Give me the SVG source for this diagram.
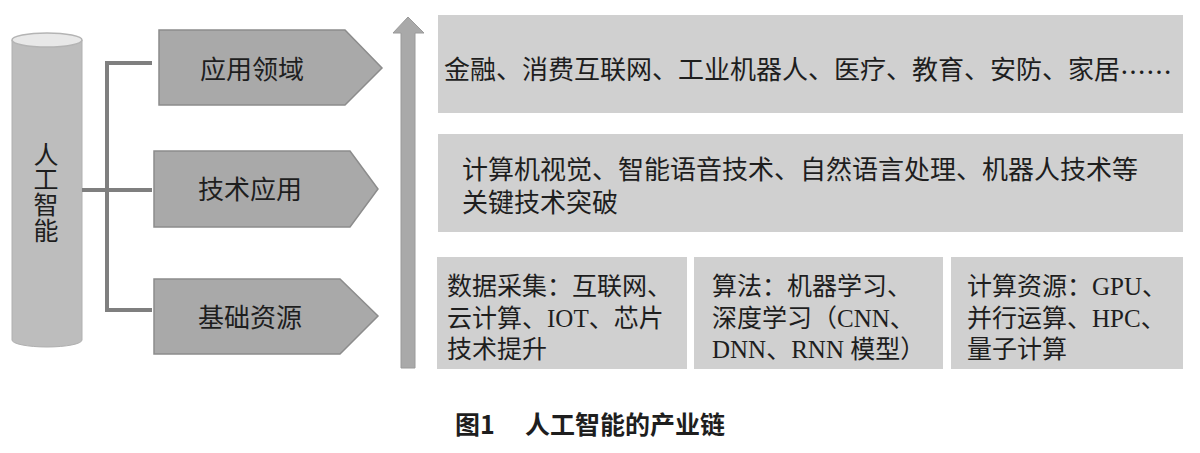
<svg xmlns="http://www.w3.org/2000/svg" width="1200" height="453" viewBox="0 0 1200 453">
<style>
.t{font-family:"Liberation Serif","Noto Sans CJK SC",serif;fill:#1e1e1e;dominant-baseline:central}
.cjk{font-family:"Noto Sans CJK SC",sans-serif}
.pent{fill:#a9a9a9;stroke:#8c8c8c;stroke-width:1.5}
.box{fill:#d0d0d0}
.conn{fill:none;stroke:#7f7f7f;stroke-width:4}
.cap{font-family:"Noto Sans CJK SC","Liberation Sans",sans-serif;font-weight:bold;fill:#1e1e1e;font-size:25px;dominant-baseline:central}
</style>
<rect width="1200" height="453" fill="#ffffff"/>
<g id="ai">
<path d="M12,40 V340 A35,7 0 0 0 82,340 V40 Z" fill="#bdbdbd" stroke="#b0b0b0" stroke-width="1"/>
<ellipse cx="47" cy="40" rx="35" ry="7" fill="#e8e8e8" stroke="#b4b4b4" stroke-width="1.5"/>
<text class="t" font-size="25" text-anchor="middle"><tspan x="46" y="155">人</tspan><tspan x="46" y="180">工</tspan><tspan x="46" y="205">智</tspan><tspan x="46" y="231">能</tspan></text>
</g>
<g id="connectors">
<path class="conn" d="M82,190 H152 M107,63 V310 M105,63 H152 M105,310 H152"/>
<polygon points="401,368 401,33 393,33 408,17 424,33 415,33 415,368" fill="#a9a9a9" stroke="#9a9a9a" stroke-width="1"/>
</g>
<g id="app-field">
<polygon class="pent" points="159,30 345,30 382,68 345,105 159,105"/>
<text class="t" font-size="26" x="252" y="70" text-anchor="middle">应用领域</text>
</g>
<g id="tech-app">
<polygon class="pent" points="154,151 350,151 378,189 350,227 154,227"/>
<text class="t" font-size="26" x="250" y="190" text-anchor="middle">技术应用</text>
</g>
<g id="base-res">
<polygon class="pent" points="154,279 340,279 378,316 340,354 154,354"/>
<text class="t" font-size="26" x="250" y="318" text-anchor="middle">基础资源</text>
</g>
<g id="box-app">
<rect class="box" x="438" y="15" width="745" height="98"/>
<text class="t" font-size="26" x="444" y="70">金融、消费互联网、工业机器人、医疗、教育、安防、家居<tspan class="cjk">……</tspan></text>
</g>
<g id="box-tech">
<rect class="box" x="438" y="134" width="745" height="98"/>
<text class="t" font-size="26" x="462" y="170">计算机视觉、智能语音技术、自然语言处理、机器人技术等</text>
<text class="t" font-size="26" x="462" y="203">关键技术突破</text>
</g>
<g id="box-data">
<rect class="box" x="437" y="257" width="250" height="112"/>
<text class="t" font-size="25" x="447" y="286">数据采集：互联网、</text>
<text class="t" font-size="25" x="447" y="318">云计算、IOT、芯片</text>
<text class="t" font-size="25" x="447" y="349">技术提升</text>
</g>
<g id="box-algo">
<rect class="box" x="694" y="257" width="249" height="112"/>
<text class="t" font-size="25" x="712" y="286">算法：机器学习、</text>
<text class="t" font-size="25" x="712" y="318">深度学习（CNN、</text>
<text class="t" font-size="25" x="712" y="349">DNN、RNN 模型）</text>
</g>
<g id="box-compute">
<rect class="box" x="951" y="257" width="232" height="112"/>
<text class="t" font-size="25" x="967" y="286">计算资源：GPU、</text>
<text class="t" font-size="25" x="967" y="318">并行运算、HPC、</text>
<text class="t" font-size="25" x="967" y="349">量子计算</text>
</g>
<g id="caption">
<text class="cap" x="455" y="423">图1</text>
<text class="cap" x="525" y="423" font-size="26">人工智能的产业链</text>
</g>
</svg>
